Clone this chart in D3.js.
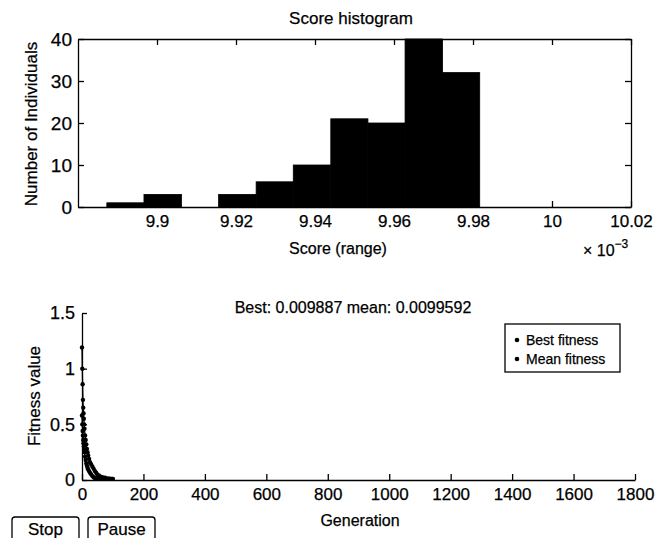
<!DOCTYPE html>
<html>
<head>
<meta charset="utf-8">
<script src="https://cdn.jsdelivr.net/npm/d3@7"></script>
<style>
  body { margin: 0; background: #fff; }
  svg text { font-family: "Liberation Sans", Arial, Helvetica, sans-serif; fill: #000; stroke: #000; stroke-width: 0.25; }
  .axis path, .axis line { stroke: #000; stroke-width: 1.3; }
  .axis text { font-size: 17px; }
</style>
</head>
<body>
<script>
// score histogram (units of 1e-3)
const scoreEdges = [9.8873, 9.8967, 9.9062, 9.9156, 9.9251, 9.9345, 9.9440, 9.9534, 9.9628, 9.9723, 9.9817];
const scoreCounts = [1, 3, 0, 3, 6, 10, 21, 20, 40, 32];
const scoreTicks = [9.9, 9.92, 9.94, 9.96, 9.98, 10, 10.02];
const countTicks = [0, 10, 20, 30, 40];

// fitness per generation
const generations = [0, 1, 2, 3, 4, 5, 6, 7, 8, 10, 12, 14, 16, 18, 20, 23, 26, 30, 34, 38, 42, 46, 50, 55, 60, 65, 70, 75, 80, 85, 90, 95, 100];
const bestFitness = [0.58, 0.5, 0.44, 0.4, 0.36, 0.33, 0.3, 0.27, 0.25, 0.21, 0.18, 0.15, 0.13, 0.11, 0.095, 0.08, 0.065, 0.05, 0.035, 0.025, 0.018, 0.013, 0.011, 0.01, 0.01, 0.01, 0.0099, 0.0099, 0.0099, 0.0099, 0.0099, 0.0099, 0.0099];
const meanFitness = [1.19, 1.0, 0.86, 0.72, 0.65, 0.6, 0.55, 0.5, 0.46, 0.4, 0.36, 0.32, 0.28, 0.25, 0.22, 0.19, 0.16, 0.14, 0.12, 0.1, 0.08, 0.065, 0.05, 0.04, 0.03, 0.025, 0.02, 0.02, 0.015, 0.012, 0.011, 0.01, 0.01];
const genTicks = [0, 200, 400, 600, 800, 1000, 1200, 1400, 1600, 1800];
const fitTicks = [0, 0.5, 1, 1.5];
const legendLabels = ['Best fitness', 'Mean fitness'];

const svg = d3.select('body').append('svg')
    .attr('width', 664)
    .attr('height', 538);

//
// TOP: SCORE HISTOGRAM
const hx = d3.scaleLinear().domain([9.88, 10.02]).range([78, 631]);
const hy = d3.scaleLinear().domain([0, 40]).range([207, 39]);

svg.selectAll('rect.bar')
    .data(scoreCounts)
    .enter()
    .append('rect')
    .attr('class', 'bar')
    .attr('x', (d, i) => hx(scoreEdges[i]))
    .attr('width', (d, i) => hx(scoreEdges[i + 1]) - hx(scoreEdges[i]))
    .attr('y', d => hy(d))
    .attr('height', d => hy(0) - hy(d))
    .attr('fill', '#000')
    .attr('stroke', '#000')
    .attr('stroke-width', 0.8);

svg.append('g').attr('class', 'axis')
    .attr('transform', 'translate(0,207)')
    .call(d3.axisBottom(hx).tickValues(scoreTicks).tickFormat(d3.format('')).tickSizeInner(-6).tickSizeOuter(0).tickPadding(8));
svg.append('g').attr('class', 'axis')
    .attr('transform', 'translate(0,39)')
    .call(d3.axisTop(hx).tickValues(scoreTicks).tickFormat('').tickSizeInner(-6).tickSizeOuter(0));
svg.append('g').attr('class', 'axis')
    .attr('transform', 'translate(78,0)')
    .call(d3.axisLeft(hy).tickValues(countTicks).tickSizeInner(-6).tickSizeOuter(0).tickPadding(6))
    .selectAll('text').style('font-size', '19px');
svg.append('g').attr('class', 'axis')
    .attr('transform', 'translate(631,0)')
    .call(d3.axisRight(hy).tickValues(countTicks).tickFormat('').tickSizeInner(-6).tickSizeOuter(0));

svg.append('text')
    .attr('x', 351).attr('y', 24)
    .attr('text-anchor', 'middle')
    .style('font-size', '17px')
    .text('Score histogram');
svg.append('text')
    .attr('x', 338).attr('y', 254)
    .attr('text-anchor', 'middle')
    .style('font-size', '16px')
    .text('Score (range)');
svg.append('text')
    .attr('transform', 'translate(37,124) rotate(-90)')
    .attr('text-anchor', 'middle')
    .style('font-size', '17px')
    .text('Number of Individuals');
const mult = svg.append('text')
    .attr('x', 583).attr('y', 256)
    .style('font-size', '16px');
mult.append('tspan').text('\u00d7 10');
mult.append('tspan').attr('dy', -8).style('font-size', '12px').text('\u22123');

//
// BOTTOM: FITNESS VS GENERATION
const gx = d3.scaleLinear().domain([0, 1800]).range([82, 635]);
const gy = d3.scaleLinear().domain([0, 1.5]).range([480, 313]);

svg.append('g').attr('class', 'axis')
    .attr('transform', 'translate(0,480)')
    .call(d3.axisBottom(gx).tickValues(genTicks).tickFormat(d3.format('')).tickSizeInner(-6).tickSizeOuter(0).tickPadding(8));
svg.append('g').attr('class', 'axis')
    .attr('transform', 'translate(82,0)')
    .call(d3.axisLeft(gy).tickValues(fitTicks).tickFormat(d3.format('')).tickSizeInner(-5).tickSizeOuter(0).tickPadding(7))
    .selectAll('text').style('font-size', '18px');

const series = [bestFitness, meanFitness];
const line = d3.line()
    .x((d, i) => gx(generations[i]))
    .y(d => gy(d));

series.forEach(s => {
    svg.append('path')
        .datum(s)
        .attr('d', line)
        .attr('fill', 'none')
        .attr('stroke', '#000')
        .attr('stroke-width', 1.3);
    svg.append('g')
        .selectAll('circle')
        .data(s)
        .enter()
        .append('circle')
        .attr('cx', (d, i) => gx(generations[i]))
        .attr('cy', d => gy(d))
        .attr('r', 2.2)
        .attr('fill', '#000');
});

svg.append('text')
    .attr('x', 353).attr('y', 313)
    .attr('text-anchor', 'middle')
    .style('font-size', '16px')
    .text('Best: 0.009887 mean: 0.0099592');
svg.append('text')
    .attr('x', 360).attr('y', 526)
    .attr('text-anchor', 'middle')
    .style('font-size', '16px')
    .text('Generation');
svg.append('text')
    .attr('transform', 'translate(40,396) rotate(-90)')
    .attr('text-anchor', 'middle')
    .style('font-size', '17px')
    .text('Fitness value');

// legend
const legend = svg.append('g').attr('transform', 'translate(505,324)');
legend.append('rect')
    .attr('width', 115).attr('height', 48)
    .attr('fill', '#fff')
    .attr('stroke', '#000')
    .attr('stroke-width', 1.3);
legend.selectAll('g.item')
    .data(legendLabels)
    .enter()
    .append('g')
    .attr('class', 'item')
    .attr('transform', (d, i) => 'translate(0,' + (16 + i * 19) + ')')
    .each(function (d) {
        d3.select(this).append('circle').attr('cx', 12).attr('cy', 0).attr('r', 2.3).attr('fill', '#000');
        d3.select(this).append('text').attr('x', 21).attr('y', 5).style('font-size', '14px').text(d);
    });

// buttons
const buttons = [{ label: 'Stop', x: 12, w: 67 }, { label: 'Pause', x: 88, w: 67 }];
buttons.forEach(b => {
    svg.append('rect')
        .attr('x', b.x).attr('y', 517)
        .attr('width', b.w).attr('height', 30)
        .attr('rx', 3)
        .attr('fill', '#fff')
        .attr('stroke', '#000')
        .attr('stroke-width', 1.3);
    svg.append('text')
        .attr('x', b.x + b.w / 2).attr('y', 535)
        .attr('text-anchor', 'middle')
        .style('font-size', '17px')
        .text(b.label);
});
</script>
</body>
</html>
